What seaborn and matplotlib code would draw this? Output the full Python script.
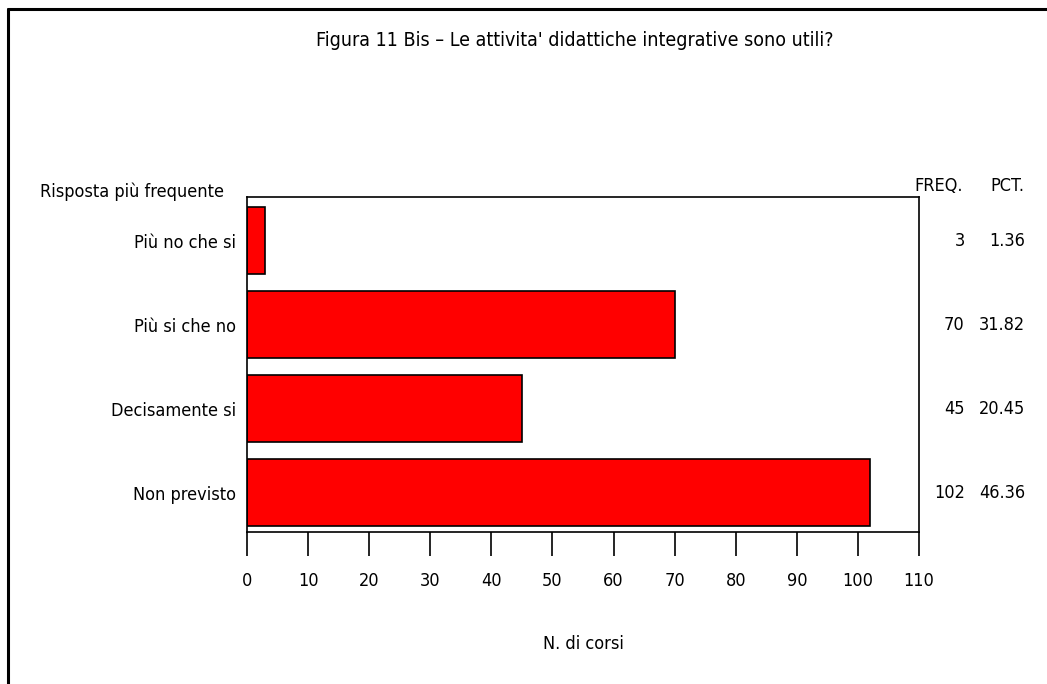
import matplotlib
matplotlib.use("Agg")
import matplotlib.pyplot as plt
import seaborn as sns
import pandas as pd
from matplotlib.lines import Line2D

categories = ["Più no che si", "Più si che no", "Decisamente si", "Non previsto"]
freq = [3, 70, 45, 102]
pct = [1.36, 31.82, 20.45, 46.36]
x_ticks = [0, 10, 20, 30, 40, 50, 60, 70, 80, 90, 100, 110]

data = pd.DataFrame({"risposta": categories, "freq": freq, "pct": pct})

sns.set_style("white")
plt.rcParams["font.family"] = ["DejaVu Sans"]
plt.rcParams["font.stretch"] = "condensed"
plt.rcParams["text.color"] = "black"
plt.rcParams["xtick.color"] = "black"
plt.rcParams["ytick.color"] = "black"
plt.rcParams["axes.labelcolor"] = "black"

fig = plt.figure(figsize=(10.47, 6.84), dpi=100)
ax = fig.add_axes([247 / 1047, 1 - 532 / 684, 672 / 1047, 335 / 684])

sns.barplot(data=data, y="risposta", x="freq", orient="h", color="#ff0000",
            saturation=1, edgecolor="black", linewidth=1.2, width=0.8, ax=ax)

ax.set_xlim(0, 110)
ax.set_ylim(3.47, -0.52)
ax.set_xticks(x_ticks)
ax.set_xticklabels([str(t) for t in x_ticks], fontsize=13)
ax.tick_params(axis="x", direction="out", length=17, width=1.2, pad=12,
               bottom=True, color="black")
ax.tick_params(axis="y", length=0, pad=8, labelsize=13)
for s in ax.spines.values():
    s.set_color("black")
    s.set_linewidth(1.2)
ax.set_ylabel("")
ax.set_xlabel("N. di corsi", fontsize=13, labelpad=32)

# right-hand table of frequencies and percentages
tr = ax.get_yaxis_transform()
ax.text(963 / 1047, 1 - 186 / 684, "FREQ.", transform=fig.transFigure,
        ha="right", va="center", fontsize=13)
ax.text(1024 / 1047, 1 - 186 / 684, "PCT.", transform=fig.transFigure,
        ha="right", va="center", fontsize=13)
for i, (f, p) in enumerate(zip(freq, pct)):
    ax.text(1.068, i, f"{f}", transform=tr, ha="right", va="center", fontsize=13)
    ax.text(1.158, i, f"{p:.2f}", transform=tr, ha="right", va="center", fontsize=13)

fig.text(40 / 1047, 1 - 192 / 684, "Risposta più frequente", ha="left",
         va="center", fontsize=13)
fig.text(575 / 1047, 1 - 40 / 684,
         "Figura 11 Bis \u2013 Le attivita' didattiche integrative sono utili?",
         ha="center", va="center", fontsize=14)

# outer frame (left and top edges)
fig.add_artist(Line2D([8 / 1047, 8 / 1047], [0, 1 - 9 / 684],
                      transform=fig.transFigure, color="black", linewidth=2.2))
fig.add_artist(Line2D([8 / 1047, 1], [1 - 9 / 684, 1 - 9 / 684],
                      transform=fig.transFigure, color="black", linewidth=2.2))

fig.savefig("out.png", dpi=100, facecolor="white")
